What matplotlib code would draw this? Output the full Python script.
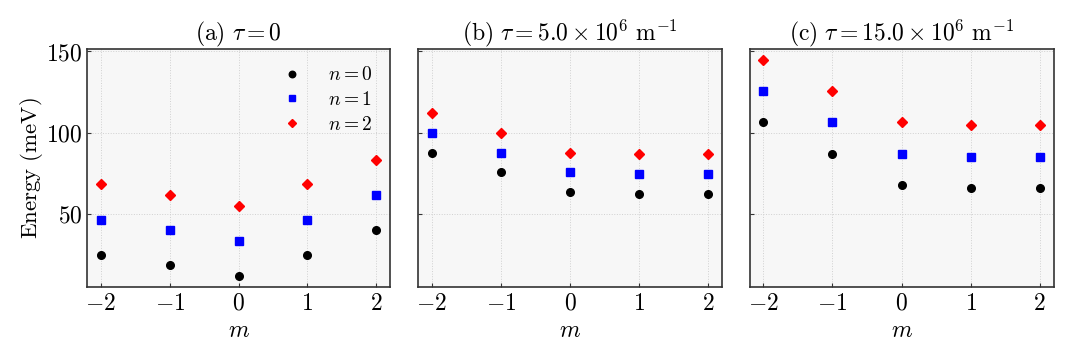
import matplotlib
matplotlib.use("Agg")
import matplotlib.pyplot as plt

plt.rcParams['mathtext.fontset'] = 'cm'
plt.rcParams['font.family'] = ['DejaVu Serif']

m_vals = [-2, -1, 0, 1, 2]
titles = [r'$\mathrm{(a)}\ \tau = 0$',
          r'$\mathrm{(b)}\ \tau = 5.0\times10^{6}\ \mathrm{m}^{-1}$',
          r'$\mathrm{(c)}\ \tau = 15.0\times10^{6}\ \mathrm{m}^{-1}$']
legend_labels = [r'$n=0$', r'$n=1$', r'$n=2$']

# Energies (meV) per panel, per n
E_a_n0 = [24.9, 18.3, 11.7, 24.9, 39.9]
E_a_n1 = [46.5, 39.9, 33.3, 46.5, 61.5]
E_a_n2 = [68.1, 61.7, 55.1, 68.1, 83.1]

E_b_n0 = [87.6, 75.5, 63.3, 62.3, 62.3]
E_b_n1 = [100.0, 87.6, 75.5, 74.5, 74.5]
E_b_n2 = [112.1, 100.0, 87.6, 86.6, 86.6]

E_c_n0 = [106.4, 87.0, 67.7, 65.9, 65.9]
E_c_n1 = [125.7, 106.4, 87.0, 85.2, 85.2]
E_c_n2 = [144.8, 125.7, 106.4, 104.5, 104.5]

panels = [(E_a_n0, E_a_n1, E_a_n2), (E_b_n0, E_b_n1, E_b_n2), (E_c_n0, E_c_n1, E_c_n2)]
colors = ['black', 'blue', 'red']
markers = ['o', 's', 'D']
msizes = [5.5, 5.5, 5.0]

fig = plt.figure(figsize=(10.8, 3.6), dpi=100)
lefts = [0.0806, 0.387, 0.694]
axes = []
for i, l in enumerate(lefts):
    if i == 0:
        ax = fig.add_axes([l, 0.203, 0.2806, 0.661])
    else:
        ax = fig.add_axes([l, 0.203, 0.2815, 0.661], sharey=axes[0])
    axes.append(ax)

for i, ax in enumerate(axes):
    ax.set_facecolor('#f7f7f7')
    for j, series in enumerate(panels[i]):
        ax.plot(m_vals, series, linestyle='none', marker=markers[j], color=colors[j],
                markersize=msizes[j], label=legend_labels[j], zorder=3)
    ax.set_xticks(m_vals)
    ax.set_xticklabels([r'$%d$' % v if v >= 0 else r'$-%d$' % abs(v) for v in m_vals])
    ax.set_xlabel(r'$m$', fontsize=17, labelpad=3)
    ax.set_title(titles[i], fontsize=17, pad=4)
    ax.grid(True, linestyle=':', color='#d0d0d0', linewidth=0.7)
    ax.tick_params(direction='in', length=3, labelsize=17, colors='#333333', labelcolor='black')
    for s in ax.spines.values():
        s.set_color('#333333')
        s.set_linewidth(1.2)
    ax.set_xlim(-2.2, 2.2)
    if i > 0:
        plt.setp(ax.get_yticklabels(), visible=False)

axes[0].set_yticks([50, 100, 150])
axes[0].set_yticklabels([r'$50$', r'$100$', r'$150$'])
axes[0].set_ylabel(r'$\mathrm{Energy\ (meV)}$', fontsize=16.5)
axes[0].yaxis.set_label_coords(-0.14, 0.5)
axes[0].legend(loc='upper right', frameon=False, fontsize=14, handletextpad=0.85,
               labelspacing=0.35, borderaxespad=0.5, markerscale=0.85)

fig.savefig('out.png', dpi=100)
